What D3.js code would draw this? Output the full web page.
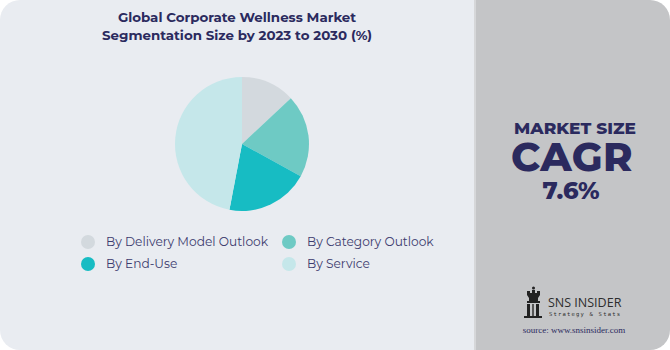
<!DOCTYPE html>
<html>
<head>
<meta charset="utf-8">
<script src="https://cdn.jsdelivr.net/npm/d3@7"></script>
<style>
  body { margin: 0; background: #fff; }
  svg { display: block; }
</style>
</head>
<body>
<svg id="chart" width="670" height="350"></svg>
<script>
const segments = ["By Delivery Model Outlook", "By Category Outlook", "By End-Use", "By Service"];
const shares = [13, 20, 20, 47];
const colors = ["#d3d9de", "#6ecac4", "#17bcc3", "#c5e7ea"];
const titleLines = ["Global Corporate Wellness Market", "Segmentation Size by 2023 to 2030 (%)"];
const cagr = "7.6%";

const settings = {
  width: 670,
  height: 350,
  split: 474,
  radius: 67,
  cx: 242,
  cy: 144,
};

const svg = d3.select("#chart");
const navy = "#2b2a5e";

// card shape with rounded corners
const defs = svg.append("defs");
defs
  .append("clipPath")
  .attr("id", "card")
  .append("rect")
  .attr("width", settings.width)
  .attr("height", settings.height)
  .attr("rx", 20);

const card = svg.append("g").attr("clip-path", "url(#card)");
card.append("rect").attr("width", settings.split).attr("height", settings.height).attr("fill", "#e9ecf1");
card
  .append("rect")
  .attr("x", settings.split)
  .attr("width", settings.width - settings.split)
  .attr("height", settings.height)
  .attr("fill", "#c4c5c7");
card
  .append("rect")
  .attr("x", settings.split)
  .attr("width", 2)
  .attr("height", settings.height)
  .attr("fill", "#d6d7d9");

// title
svg
  .append("text")
  .attr("font-family", "Montserrat, Inter, sans-serif")
  .attr("font-weight", "bold")
  .attr("font-size", "13.4px")
  .attr("fill", navy)
  .attr("text-anchor", "middle")
  .selectAll("tspan")
  .data(titleLines)
  .join("tspan")
  .attr("x", 237)
  .attr("y", (d, i) => 22 + i * 18)
  .text((d) => d);

// pie
const pie = d3.pie().sort(null).value((d) => d);
const arc = d3.arc().innerRadius(0).outerRadius(settings.radius);
svg
  .append("g")
  .attr("transform", `translate(${settings.cx}, ${settings.cy})`)
  .selectAll("path")
  .data(pie(shares))
  .join("path")
  .attr("d", arc)
  .attr("fill", (d, i) => colors[i]);

// legend
const legend = svg
  .append("g")
  .selectAll("g")
  .data(segments)
  .join("g")
  .attr("transform", (d, i) => `translate(${i % 2 ? 289 : 88}, ${242 + Math.floor(i / 2) * 22})`);
legend.append("circle").attr("r", 7).attr("fill", (d, i) => colors[i]);
legend
  .append("text")
  .attr("x", 18)
  .attr("dy", "0.35em")
  .attr("font-family", "Montserrat, Inter, sans-serif")
  .attr("font-size", "12.2px")
  .attr("fill", "#3c3b6e")
  .text((d) => d);

// right panel
const right = svg.append("g").attr("text-anchor", "middle").attr("fill", navy)
  .attr("font-family", "Montserrat, Inter, sans-serif").attr("font-weight", 800);
right.append("text").attr("x", 575).attr("y", 134).attr("font-size", "17px").text("MARKET SIZE");
right.append("text").attr("x", 572).attr("y", 171).attr("font-size", "40px").attr("letter-spacing", "0.5px").text("CAGR");
right.append("text").attr("x", 571).attr("y", 199).attr("font-size", "24px").text(cagr);

// logo
const logo = svg.append("g").attr("fill", "#222");
logo.append("path").attr("d",
  "M527,291 h3 v2 h2 v-3 h3 v3 h2 v-2 h3 v4 l-2,3 v3 h2 v2 h-13 v-2 h2 v-3 l-2,-3 z");
logo.append("rect").attr("x", 527).attr("y", 304).attr("width", 3).attr("height", 13);
logo.append("rect").attr("x", 532).attr("y", 304).attr("width", 2).attr("height", 13).attr("fill", "#555");
logo.append("rect").attr("x", 536).attr("y", 304).attr("width", 3).attr("height", 13);
logo.append("rect").attr("x", 524).attr("y", 316).attr("width", 18).attr("height", 2);
logo.append("circle").attr("cx", 533.5).attr("cy", 288).attr("r", 1.5);
svg.append("text").attr("x", 548).attr("y", 307).attr("font-family", "'Open Sans', sans-serif")
  .attr("font-size", "12.5px").attr("fill", "#2d2d2d").text("SNS INSIDER");
svg.append("text").attr("x", 549).attr("y", 316).attr("font-family", "'DejaVu Sans Mono', monospace")
  .attr("font-size", "5.5px").attr("letter-spacing", "1.2px").attr("fill", "#2d2d2d").text("Strategy & Stats");
svg.append("text").attr("x", 574).attr("y", 333).attr("text-anchor", "middle")
  .attr("font-family", "'Liberation Serif', serif").attr("font-size", "9px").attr("fill", "#2b2a5e")
  .text("source: www.snsinsider.com");
</script>
</body>
</html>
